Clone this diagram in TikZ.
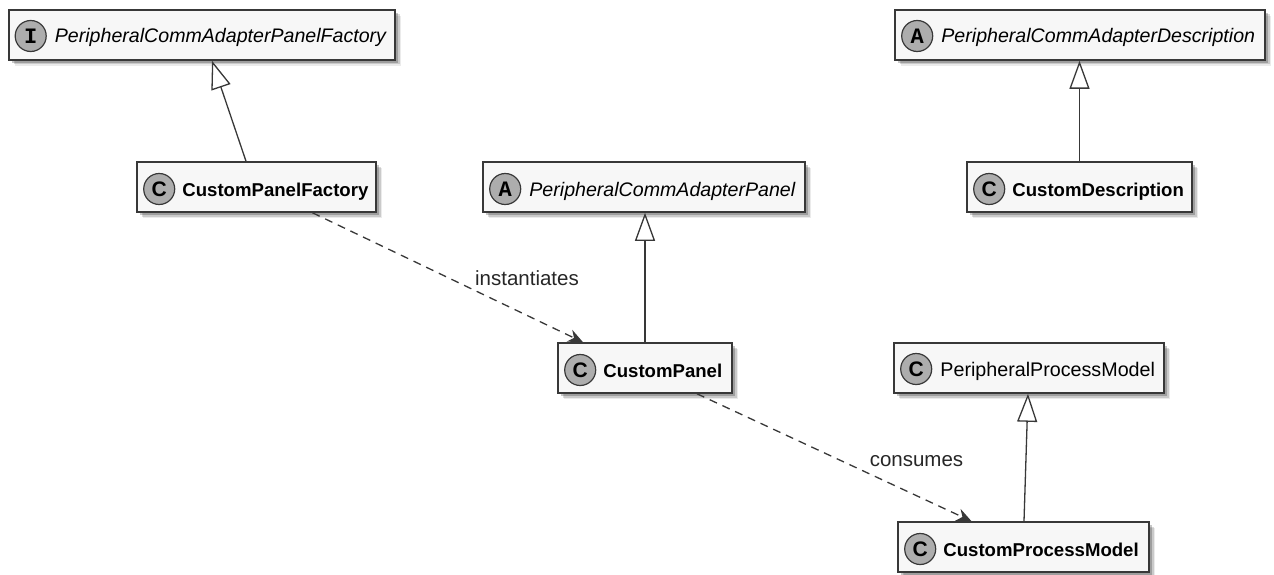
\documentclass[tikz,border=0pt]{standalone}
\usepackage{fontspec}
\setmainfont{Liberation Sans}
\newfontfamily\monob{Liberation Mono}
\usetikzlibrary{arrows.meta,calc,shadows}
\definecolor{ln}{HTML}{383838}
\definecolor{bx}{HTML}{F7F7F7}
\definecolor{ic}{HTML}{ADADAD}
\tikzset{
  x=1pt, y=-1pt,
  cls/.style={draw=ln, line width=1.6pt, fill=bx, rectangle, minimum height=50pt, inner sep=0pt,
    drop shadow={shadow xshift=6pt, shadow yshift=-6pt, fill=black, opacity=0.08},
    drop shadow={shadow xshift=4.5pt, shadow yshift=-4.5pt, fill=black, opacity=0.14},
    drop shadow={shadow xshift=3pt, shadow yshift=-3pt, fill=black, opacity=0.22}},
  icon/.style={circle, draw=ln, line width=1.2pt, fill=ic, minimum size=31pt, inner sep=0pt},
  icc/.style={icon, font=\fontsize{21}{21}\selectfont\bfseries},
  ica/.style={icon, font=\fontsize{22}{22}\selectfont\monob\bfseries},
  nmb/.style={anchor=base west, inner sep=0pt, font=\fontsize{18.6}{20}\selectfont\bfseries},
  nmi/.style={anchor=base west, inner sep=0pt, font=\fontsize{19.6}{20}\selectfont\itshape},
  nmr/.style={anchor=base west, inner sep=0pt, font=\fontsize{19.7}{20}\selectfont},
  ext/.style={draw=ln, line width=1.3pt, -{Triangle[length=28pt, width=20pt, fill=white, line width=1.3pt]}},
  dep/.style={draw=ln, line width=1.3pt, dash pattern=on 8pt off 6pt, -{Stealth[length=15pt, width=13pt, inset=5pt]}},
  elbl/.style={anchor=base, inner sep=0pt, font=\fontsize{20.5}{22}\selectfont, text=black!85}
}
\begin{document}
\begin{tikzpicture}
\useasboundingbox (0,0) rectangle (1274,575);

% boxes
\node[cls, minimum width=386pt] (ipf) at (202,35) {};
\node[cls, minimum width=239pt] (cpf) at (256.5,187) {};
\node[cls, minimum width=322pt] (acap) at (644,187) {};
\node[cls, minimum width=370pt] (acad) at (1080,35) {};
\node[cls, minimum width=225pt] (cdesc) at (1079.5,187) {};
\node[cls, minimum width=174pt] (cpan) at (645,368) {};
\node[cls, minimum width=270pt] (ppm) at (1029,368) {};
\node[cls, minimum width=251pt] (cpm) at (1023.5,547) {};

% icons and names
\node[ica] (ipfI) at ($(ipf.west)+(22.5,1)$) {I};
\node[nmi] (ipfT) at ($(ipfI.center)+(24,7)$) {PeripheralCommAdapterPanelFactory};

\node[icc] (cpfI) at ($(cpf.west)+(23,2)$) {C};
\node[nmb] (cpfT) at ($(cpfI.center)+(23,7)$) {CustomPanelFactory};

\node[ica] (acapI) at ($(acap.west)+(23,2)$) {A};
\node[nmi] (acapT) at ($(acapI.center)+(24,7)$) {PeripheralCommAdapterPanel};

\node[ica] (acadI) at ($(acad.west)+(23,1)$) {A};
\node[nmi] (acadT) at ($(acadI.center)+(24,7)$) {PeripheralCommAdapterDescription};

\node[icc] (cdescI) at ($(cdesc.west)+(23,2)$) {C};
\node[nmb] (cdescT) at ($(cdescI.center)+(23,7)$) {CustomDescription};

\node[icc] (cpanI) at ($(cpan.west)+(23,2)$) {C};
\node[nmb] (cpanT) at ($(cpanI.center)+(23,7)$) {CustomPanel};

\node[icc] (ppmI) at ($(ppm.west)+(23,1)$) {C};
\node[nmr] (ppmT) at ($(ppmI.center)+(24,7)$) {PeripheralProcessModel};

\node[icc] (cpmI) at ($(cpm.west)+(23,2)$) {C};
\node[nmb] (cpmT) at ($(cpmI.center)+(23,7)$) {CustomProcessModel};

% inheritance
\draw[ext] ($(cpf.north)+(-10.5,0)$) -- ($(ipf.south)+(10,0)$);
\draw[ext] (cpan.north) -- (cpan.north |- acap.south);
\draw[ext] (cdesc.north) -- (cdesc.north |- acad.south);
\draw[ext] ($(cpm.north)+(0.5,0)$) -- ($(ppm.south)+(-1,0)$);

% dependencies
\draw[dep] ($(cpf.south)+(56,0)$) -- ($(cpan.north)+(-62,0)$);
\draw[dep] ($(cpan.south)+(52,0)$) -- ($(cpm.north)+(-52,0)$);

\node[elbl] (l1) at (527,285) {instantiates};
\node[elbl] (l2) at (916.5,466) {consumes};
\end{tikzpicture}
\end{document}
